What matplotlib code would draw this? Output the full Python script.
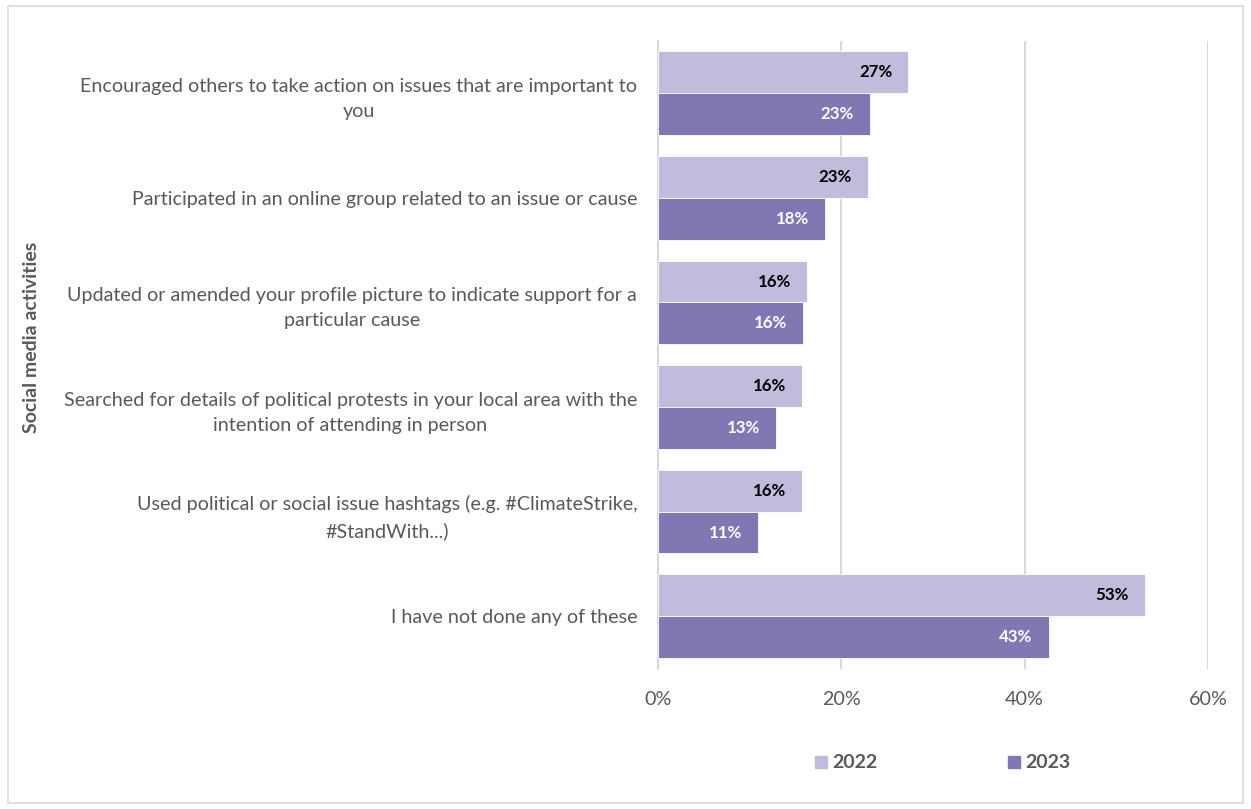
import matplotlib
matplotlib.use("Agg")
import matplotlib.pyplot as plt
from matplotlib.patches import Rectangle
from matplotlib.lines import Line2D

categories = [
    "Encouraged others to take action on issues that are important to\nyou",
    "Participated in an online group related to an issue or cause",
    "Updated or amended your profile picture to indicate support for a\nparticular cause",
    "Searched for details of political protests in your local area with the\nintention of attending in person",
    "Used political or social issue hashtags (e.g. #ClimateStrike,\n#StandWith...)",
    "I have not done any of these",
]
values_2022 = [27.3, 22.9, 16.3, 15.7, 15.7, 53.1]
values_2023 = [23.1, 18.2, 15.8, 12.9, 10.9, 42.6]
series_names = ["2022", "2023"]
x_ticks = [0, 20, 40, 60]
y_axis_title = "Social media activities"

c2022 = "#C1BCDB"
c2023 = "#8077B3"
grid_c = "#D9D9D9"
text_c = "#595959"
font = "Lato"

W, H = 1251, 809
fig = plt.figure(figsize=(W / 100, H / 100), dpi=100)

# outer chart frame
fig.patches.append(Rectangle((8 / W, 6 / H), (1243 - 8) / W, (803 - 6) / H,
                             transform=fig.transFigure, fill=False,
                             edgecolor="#D9D9D9", linewidth=1.2))

ax = fig.add_axes([658 / W, 1 - 668.5 / H, (1208 - 658) / W, (668.5 - 41) / H])

n = len(categories)
bar_h = 0.4
ypos = list(range(n))
y22 = [y - bar_h / 2 for y in ypos]
y23 = [y + bar_h / 2 for y in ypos]

b22 = ax.barh(y22, values_2022, height=bar_h, color=c2022, edgecolor="white",
              linewidth=0.6, zorder=3)
b23 = ax.barh(y23, values_2023, height=bar_h, color=c2023, edgecolor="white",
              linewidth=0.6, zorder=3)

for bars, vals, col in ((b22, values_2022, "black"), (b23, values_2023, "white")):
    for rect, v in zip(bars, vals):
        ax.annotate(f"{v:.0f}%", xy=(v, rect.get_y() + rect.get_height() / 2),
                    xytext=(-11.5, 0), textcoords="offset points",
                    ha="right", va="center", fontsize=12.2, fontweight="bold",
                    color=col, family=font, zorder=4)

ax.set_xlim(0, 60)
ax.set_ylim(n - 0.5, -0.5)
ax.set_xticks(x_ticks)
ax.set_xticklabels([f"{t}%" for t in x_ticks], fontsize=14.2, color=text_c, family=font)
ax.tick_params(axis="x", length=0, pad=16)
ax.set_yticks(ypos)
ax.set_yticklabels(categories, fontsize=14.2, color=text_c, family=font,
                   multialignment="center", linespacing=1.6)
ax.tick_params(axis="y", length=0, pad=15)

ax.grid(axis="x", color=grid_c, linewidth=1.5, zorder=0)
for s in ("top", "right", "bottom"):
    ax.spines[s].set_visible(False)
ax.spines["left"].set_color(grid_c)
ax.spines["left"].set_linewidth(1.5)
ax.spines["left"].set_zorder(1)

fig.text(32 / W, 1 - 337 / H, y_axis_title, rotation=90, ha="center", va="center",
         fontsize=14, fontweight="bold", color=text_c, family=font)

handles = [Line2D([], [], marker="s", linestyle="none", markersize=8.5,
                  markerfacecolor=c, markeredgecolor=c) for c in (c2022, c2023)]
leg = fig.legend(handles, series_names, loc="center", bbox_to_anchor=(943 / W, 1 - 763 / H),
                 ncol=2, frameon=False, columnspacing=6.7, handletextpad=0.3,
                 handlelength=0.6,
                 prop={"family": font, "weight": "bold", "size": 14})
for t in leg.get_texts():
    t.set_color(text_c)
    t.set_fontweight("bold")

fig.savefig("out.png", dpi=100, facecolor="white")
